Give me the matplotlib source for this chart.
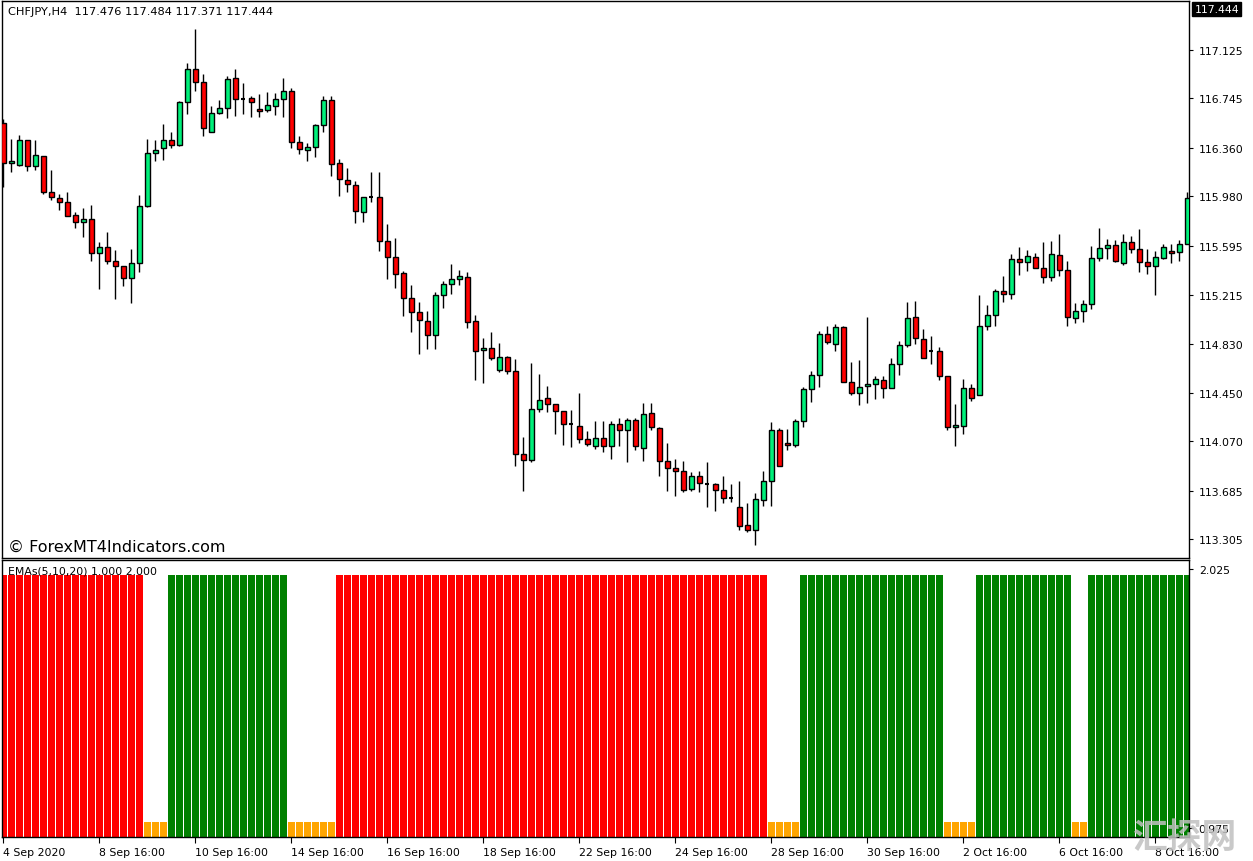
import numpy as np
import matplotlib.pyplot as plt

# CHFJPY H4 candles
opens = [116.553, 116.241, 116.225, 116.420, 116.217, 116.295, 116.015, 115.968, 115.937, 115.835,
         115.781, 115.804, 115.539, 115.586, 115.476, 115.437, 115.344, 115.461, 115.906, 116.319,
         116.358, 116.420, 116.381, 116.717, 116.974, 116.873, 116.483, 116.631, 116.670, 116.904,
         116.740, 116.748, 116.662, 116.654, 116.685, 116.740, 116.802, 116.405, 116.342, 116.366,
         116.537, 116.732, 116.241, 116.108, 116.069, 115.859, 115.976, 115.976, 115.633, 115.508,
         115.383, 115.188, 115.079, 115.009, 114.899, 115.211, 115.297, 115.336, 115.352, 115.009,
         114.782, 114.798, 114.626, 114.728, 114.619, 113.971, 113.925, 114.322, 114.408, 114.361,
         114.307, 114.205, 114.190, 114.088, 114.034, 114.096, 114.034, 114.205, 114.158, 114.236,
         114.018, 114.291, 114.174, 113.917, 113.862, 113.839, 113.698, 113.800, 113.737, 113.737,
         113.690, 113.628, 113.558, 113.418, 113.379, 113.613, 113.761, 114.158, 114.057, 114.041,
         114.229, 114.478, 114.588, 114.907, 114.829, 114.962, 114.533, 114.447, 114.502, 114.517,
         114.549, 114.486, 114.673, 114.822, 115.040, 114.868, 114.775, 114.775, 114.580, 114.182,
         114.190, 114.486, 114.432, 114.970, 115.055, 115.243, 115.219, 115.492, 115.469, 115.508,
         115.422, 115.352, 115.523, 115.406, 115.032, 115.087, 115.141, 115.500, 115.578, 115.602,
         115.461, 115.625, 115.570, 115.469, 115.437, 115.500, 115.555, 115.547, 115.609]
highs = [116.584, 116.428, 116.459, 116.420, 116.420, 116.295, 116.186, 115.999, 116.015, 115.859,
         115.890, 115.913, 115.625, 115.703, 115.562, 115.437, 115.570, 115.991, 116.428, 116.420,
         116.545, 116.483, 116.724, 117.021, 117.286, 116.935, 116.685, 116.732, 116.919, 116.974,
         116.865, 116.763, 116.779, 116.795, 116.787, 116.904, 116.826, 116.451, 116.397, 116.545,
         116.763, 116.763, 116.272, 116.202, 116.100, 115.976, 116.171, 116.171, 115.766, 115.656,
         115.399, 115.290, 115.157, 115.087, 115.235, 115.321, 115.453, 115.406, 115.391, 115.055,
         114.876, 114.923, 114.837, 114.736, 114.712, 114.104, 114.681, 114.595, 114.502, 114.361,
         114.307, 114.314, 114.447, 114.150, 114.229, 114.229, 114.229, 114.252, 114.252, 114.252,
         114.369, 114.369, 114.182, 114.057, 113.932, 113.917, 113.831, 113.839, 113.909, 113.745,
         113.800, 113.737, 113.761, 113.589, 113.667, 113.839, 114.221, 114.174, 114.166, 114.244,
         114.494, 114.619, 114.931, 114.970, 114.985, 114.970, 114.689, 114.705, 115.040, 114.580,
         114.580, 114.720, 114.853, 115.157, 115.165, 114.946, 114.892, 114.806, 114.580, 114.361,
         114.556, 114.517, 115.212, 115.133, 115.258, 115.360, 115.531, 115.586, 115.562, 115.539,
         115.625, 115.633, 115.687, 115.477, 115.149, 115.172, 115.594, 115.734, 115.648, 115.640,
         115.687, 115.672, 115.726, 115.570, 115.555, 115.609, 115.609, 115.640, 116.015]
lows = [116.054, 116.171, 116.217, 116.178, 116.186, 115.999, 115.952, 115.874, 115.827, 115.734,
        115.664, 115.476, 115.258, 115.453, 115.180, 115.281, 115.149, 115.391, 115.898, 116.256,
        116.264, 116.358, 116.373, 116.623, 116.802, 116.451, 116.483, 116.623, 116.592, 116.607,
        116.623, 116.600, 116.600, 116.639, 116.615, 116.600, 116.358, 116.311, 116.256, 116.288,
        116.483, 116.139, 115.984, 116.015, 115.773, 115.781, 115.937, 115.555, 115.336, 115.266,
        115.048, 114.923, 114.751, 114.790, 114.790, 115.110, 115.219, 115.289, 114.954, 114.549,
        114.525, 114.705, 114.611, 114.595, 113.878, 113.683, 113.909, 114.299, 114.299, 114.127,
        114.041, 114.026, 114.057, 114.034, 114.010, 113.987, 113.932, 114.034, 113.909, 114.002,
        113.917, 114.159, 113.800, 113.683, 113.644, 113.675, 113.683, 113.675, 113.558, 113.527,
        113.589, 113.597, 113.379, 113.363, 113.262, 113.566, 113.566, 113.878, 114.002, 114.026,
        114.182, 114.377, 114.494, 114.829, 114.775, 114.533, 114.432, 114.354, 114.369, 114.400,
        114.408, 114.486, 114.588, 114.806, 114.829, 114.720, 114.673, 114.549, 114.159, 114.034,
        114.127, 114.385, 114.432, 114.939, 114.970, 115.157, 115.180, 115.368, 115.399, 115.422,
        115.305, 115.321, 115.360, 114.970, 114.993, 115.001, 115.102, 115.476, 115.492, 115.469,
        115.445, 115.539, 115.391, 115.375, 115.211, 115.492, 115.461, 115.476, 115.609]
closes = [116.241, 116.256, 116.420, 116.217, 116.303, 116.015, 115.976, 115.937, 115.827, 115.781,
          115.804, 115.539, 115.586, 115.476, 115.437, 115.344, 115.461, 115.906, 116.319, 116.342,
          116.420, 116.381, 116.717, 116.974, 116.873, 116.514, 116.631, 116.670, 116.896, 116.740,
          116.740, 116.717, 116.646, 116.693, 116.740, 116.802, 116.405, 116.350, 116.366, 116.537,
          116.732, 116.233, 116.116, 116.077, 115.866, 115.976, 115.976, 115.633, 115.508, 115.375,
          115.188, 115.079, 115.016, 114.899, 115.211, 115.297, 115.336, 115.360, 115.001, 114.774,
          114.798, 114.720, 114.728, 114.619, 113.971, 113.925, 114.322, 114.393, 114.361, 114.307,
          114.205, 114.205, 114.088, 114.049, 114.096, 114.034, 114.205, 114.158, 114.236, 114.034,
          114.283, 114.182, 113.917, 113.862, 113.839, 113.690, 113.800, 113.745, 113.737, 113.690,
          113.628, 113.628, 113.410, 113.379, 113.621, 113.761, 114.158, 113.878, 114.041, 114.229,
          114.478, 114.588, 114.907, 114.845, 114.962, 114.533, 114.447, 114.494, 114.517, 114.556,
          114.486, 114.673, 114.822, 115.032, 114.876, 114.720, 114.775, 114.580, 114.182, 114.197,
          114.486, 114.408, 114.970, 115.055, 115.243, 115.219, 115.492, 115.469, 115.516, 115.422,
          115.352, 115.531, 115.406, 115.040, 115.087, 115.141, 115.500, 115.578, 115.602, 115.476,
          115.625, 115.570, 115.469, 115.437, 115.508, 115.586, 115.539, 115.609, 115.968]

# EMAs histogram: runs of (state, number of bars)
ema_runs = [('down', 18), ('flat', 3), ('up', 15), ('flat', 6), ('down', 54), ('flat', 4),
            ('up', 18), ('flat', 4), ('up', 12), ('flat', 2), ('up', 13)]
ema_level = {'down': 2.0, 'up': 2.0, 'flat': 1.0}
ema_color = {'down': '#ff0000', 'up': '#008000', 'flat': '#ffa500'}

price_ticks = [117.125, 116.745, 116.360, 115.980, 115.595, 115.215,
               114.830, 114.450, 114.070, 113.685, 113.305]
date_pos = [0, 12, 24, 36, 48, 60, 72, 84, 96, 108, 120, 132, 144]
date_labels = ['4 Sep 2020', '8 Sep 16:00', '10 Sep 16:00', '14 Sep 16:00', '16 Sep 16:00',
               '18 Sep 16:00', '22 Sep 16:00', '24 Sep 16:00', '28 Sep 16:00', '30 Sep 16:00',
               '2 Oct 16:00', '6 Oct 16:00', '8 Oct 16:00']
last_price = 117.444

W, H = 1253, 862
fig = plt.figure(figsize=(W / 100, H / 100), dpi=100, facecolor='white')


def pane(l, t, r, b):
    return fig.add_axes([l / W, 1 - b / H, (r - l) / W, (b - t) / H])


ax = pane(2, 2, 1189, 559)
ax2 = pane(2, 561, 1189, 838)

o = np.array(opens)
h = np.array(highs)
lo = np.array(lows)
c = np.array(closes)
x = np.arange(len(o))
up = c > o
dn = c < o
eq = c == o

ax.vlines(x, lo, h, color='black', lw=1, zorder=2)
ax.bar(x[up], c[up] - o[up], bottom=o[up], width=0.625, color='#00f07a',
       edgecolor='black', lw=1, zorder=3)
ax.bar(x[dn], c[dn] - o[dn], bottom=o[dn], width=0.625, color='#ff0000',
       edgecolor='black', lw=1, zorder=3)
ax.hlines(o[eq], x[eq] - 0.31, x[eq] + 0.31, color='black', lw=1.5, zorder=3)

ax.set_xlim(-0.125, 148.25)
ax.set_ylim(113.160, 117.505)
ax.set_xticks([])
ax.yaxis.tick_right()
ax.set_yticks(price_ticks)
ax.set_yticklabels([f'{v:.3f}' for v in price_ticks])
ax.tick_params(axis='y', direction='out', length=3, labelsize=7.8, pad=4)
for s in ax.spines.values():
    s.set_linewidth(1)

ax.text(1.0045, last_price, f'{last_price:.3f}', transform=ax.get_yaxis_transform(),
        color='white', fontsize=7.8, va='center', ha='left',
        bbox=dict(boxstyle='square,pad=0.2', fc='black', ec='black'), clip_on=False)

# histogram subwindow
base = 0.939
states = [s for s, n in ema_runs for _ in range(n)]
vals = np.array([ema_level[s] for s in states])
cols = [ema_color[s] for s in states]
xb = np.arange(len(vals))
ax2.bar(xb, vals - base, bottom=base, width=0.875, color=cols, lw=0)
ax2.set_xlim(-0.125, 148.25)
ax2.set_ylim(base, 2.061)
ax2.yaxis.tick_right()
ax2.set_yticks([2.025, 0.975])
ax2.set_yticklabels(['2.025', '0.975'])
ax2.tick_params(axis='y', direction='out', length=3, labelsize=7.8, pad=4)
ax2.set_xticks(date_pos)
ax2.set_xticklabels(date_labels, ha='left')
ax2.tick_params(axis='x', direction='out', length=4, labelsize=7.8, pad=3)
for s in ax2.spines.values():
    s.set_linewidth(1)

fig.text(8 / W, 1 - 12 / H, 'CHFJPY,H4  117.476 117.484 117.371 117.444',
         fontsize=8.2, va='center', ha='left')
fig.text(8 / W, 1 - 547 / H, '\u00a9 ForexMT4Indicators.com',
         fontsize=11.5, va='center', ha='left')
fig.text(8 / W, 1 - 572 / H, 'EMAs(5,10,20) 1.000 2.000',
         fontsize=7.8, va='center', ha='left', zorder=5)
fig.text(1184 / W, 1 - 838 / H, '汇探网', family=['Noto Sans CJK SC', 'DejaVu Sans'],
         fontsize=25, fontweight='bold', color='#c0c0c0', alpha=0.85,
         va='center', ha='center', zorder=6)

fig.savefig('out.png', dpi=100, facecolor='white')
